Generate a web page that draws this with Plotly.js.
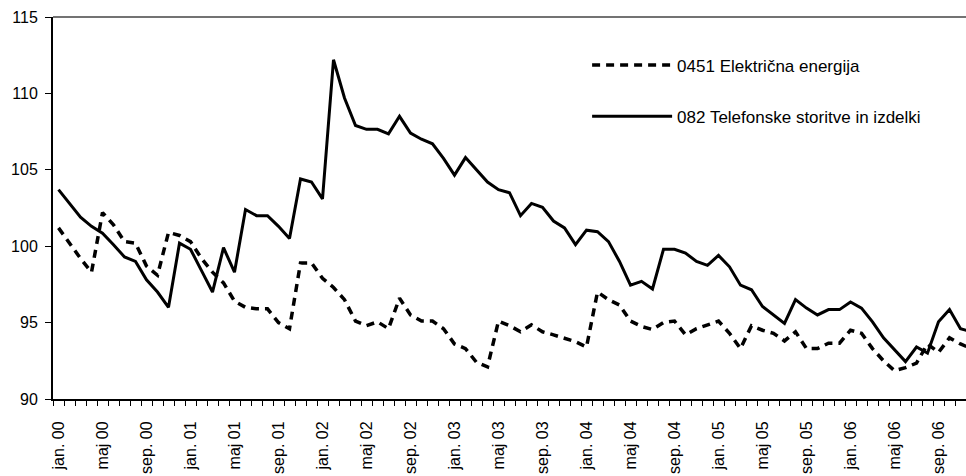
<!DOCTYPE html>
<html>
<head>
<meta charset="utf-8">
<script src="https://cdn.plot.ly/plotly-3.0.1.min.js"></script>
<style>
  html, body { margin: 0; padding: 0; background: #fff; }
  #grafico { width: 966px; height: 476px; }
</style>
</head>
<body>
<div id="grafico"></div>
<script>
// meseci od jan. 2000 do dec. 2006
var imenaMesecev = ["jan.", "feb.", "mar.", "apr.", "maj", "jun.", "jul.", "avg.", "sep.", "okt.", "nov.", "dec."];
var leta = ["00", "01", "02", "03", "04", "05", "06"];

var meseci = [];
leta.forEach(function (leto) {
	imenaMesecev.forEach(function (m) {
		meseci.push(m + " " + leto);
	});
});

// 0451 Električna energija
var elektrika = [
	101.2, 100.2, 99.2, 98.3, 102.2, 101.4, 100.3, 100.2, 98.7, 98.1, 100.9, 100.7,
	100.3, 99.2, 98.3, 97.6, 96.4, 96.0, 95.9, 95.9, 95.0, 94.6, 98.9, 98.9,
	97.9, 97.3, 96.5, 95.1, 94.8, 95.05, 94.6, 96.6, 95.5, 95.1, 95.1, 94.6,
	93.6, 93.3, 92.4, 92.1, 95.1, 94.8, 94.4, 94.85, 94.4, 94.2, 93.95, 93.75,
	93.4, 97.0, 96.5, 96.15, 95.1, 94.75, 94.55, 95.0, 95.1, 94.2, 94.6, 94.85,
	95.1, 94.3, 93.3, 94.8, 94.5, 94.3, 93.8, 94.4, 93.3, 93.3, 93.65, 93.65,
	94.5, 94.3, 93.3, 92.5, 91.85, 92.05, 92.35, 93.6, 93.05, 94.0, 93.6, 93.3
];

// 082 Telefonske storitve in izdelki
var telefon = [
	103.7, 102.8, 101.9, 101.3, 100.85, 100.1, 99.3, 99.0, 97.8, 97.0, 96.0, 100.2,
	99.8, 98.4, 97.0, 99.9, 98.3, 102.4, 102.0, 102.0, 101.3, 100.5, 104.4, 104.2,
	103.1, 112.2, 109.7, 107.9, 107.65, 107.65, 107.35, 108.5, 107.4, 107.0, 106.7, 105.75,
	104.65, 105.8, 105.0, 104.2, 103.7, 103.5, 102.0, 102.8, 102.55, 101.65, 101.2, 100.1,
	101.05, 100.95, 100.3, 99.0, 97.45, 97.7, 97.2, 99.8, 99.8, 99.55, 99.0, 98.75,
	99.4, 98.65, 97.45, 97.15, 96.05, 95.5, 94.95, 96.5, 95.95, 95.5, 95.85, 95.85,
	96.35, 95.95, 95.05, 94.0, 93.2, 92.45, 93.4, 93.0, 95.05, 95.85, 94.6, 94.4
];

var pozicije = meseci.map(function (m, i) { return i; });
var oznakeVal = pozicije.filter(function (i) { return i % 4 === 0; });
var oznakeText = oznakeVal.map(function (i) { return meseci[i]; });

var data = [{
	x: pozicije,
	y: elektrika,
	type: "scatter",
	mode: "lines",
	name: "0451 Električna energija",
	legendgroup: "a",
	line: { color: "#000", width: 3.5, dash: "8px,6px" }
}, {
	x: pozicije,
	y: telefon,
	type: "scatter",
	mode: "lines",
	name: "082 Telefonske storitve in izdelki",
	legendgroup: "b",
	line: { color: "#000", width: 3 }
}];

var layout = {
	width: 966,
	height: 476,
	margin: { l: 53, r: 0, t: 17, b: 77 },
	paper_bgcolor: "#fff",
	plot_bgcolor: "#fff",
	font: { family: "Liberation Sans, Arial, sans-serif", size: 16, color: "#000" },
	showlegend: true,
	legend: {
		x: 0.585,
		y: 0.92,
		xanchor: "left",
		yanchor: "top",
		bgcolor: "rgba(0,0,0,0)",
		font: { size: 17 },
		itemwidth: 80,
		tracegroupgap: 26
	},
	xaxis: {
		range: [-0.5, 82.5],
		tickmode: "array",
		tickvals: oznakeVal,
		ticktext: oznakeText,
		tickangle: -90,
		ticks: "",
		ticklabelstandoff: 14,
		showgrid: false,
		zeroline: false,
		showline: true,
		linecolor: "#000",
		linewidth: 2,
		minor: { tickmode: "linear", tick0: -0.5, dtick: 1, ticks: "outside", ticklen: 5, tickwidth: 1, tickcolor: "#000", showgrid: false }
	},
	yaxis: {
		range: [90, 115],
		dtick: 5,
		ticks: "outside",
		ticklen: 6,
		tickwidth: 1,
		tickcolor: "#000",
		ticklabelstandoff: 4,
		showgrid: false,
		zeroline: false,
		showline: true,
		linecolor: "#000",
		linewidth: 2
	},
	shapes: [{
		type: "line", xref: "paper", yref: "paper",
		x0: 0, x1: 1, y0: 1, y1: 1,
		line: { color: "#444", width: 1.5 }
	}]
};

var config = { staticPlot: true };

Plotly.newPlot("grafico", data, layout, config);
</script>
</body>
</html>
